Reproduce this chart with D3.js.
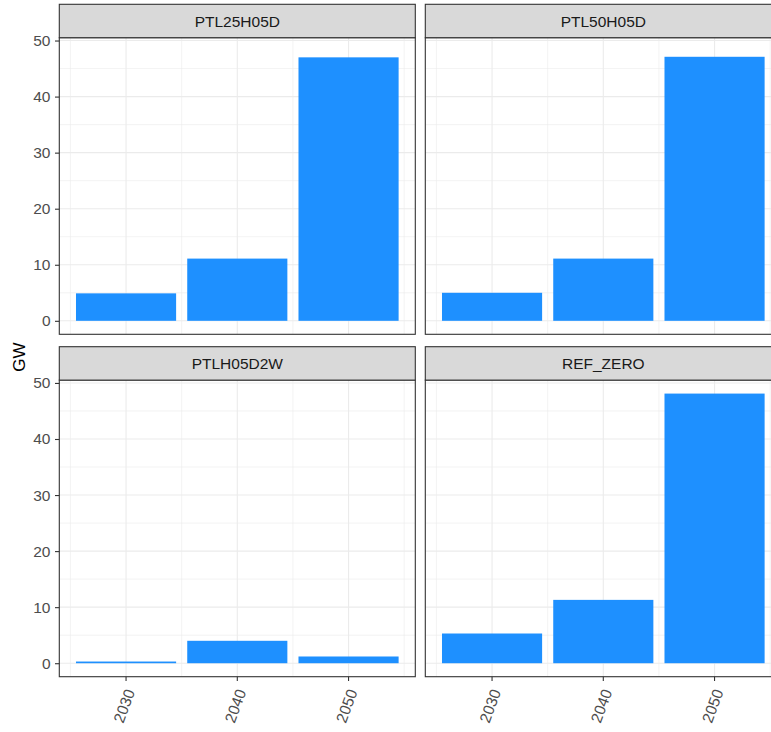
<!DOCTYPE html>
<html>
<head>
<meta charset="utf-8">
<script src="https://cdn.jsdelivr.net/npm/d3@7"></script>
<style>
  html, body { margin: 0; padding: 0; background: #fff; }
  svg { display: block; font-family: "Liberation Sans", Arial, sans-serif; }
</style>
</head>
<body>
<svg id="chart" width="771" height="732"></svg>
<script>
// Installed capacity (GW) by scenario and year
const scenarios = ["PTL25H05D", "PTL50H05D", "PTLH05D2W", "REF_ZERO"];
const years = ["2030", "2040", "2050"];
const valuesPTL25H05D = [4.9, 11.1, 47.0];
const valuesPTL50H05D = [5.0, 11.1, 47.1];
const valuesPTLH05D2W = [0.3, 4.0, 1.2];
const valuesREF_ZERO  = [5.3, 11.3, 48.1];
const yTicks = [0, 10, 20, 30, 40, 50];
const yMinor = [5, 15, 25, 35, 45];
const yLabel = "GW";

const seriesByScenario = {
  PTL25H05D: valuesPTL25H05D,
  PTL50H05D: valuesPTL50H05D,
  PTLH05D2W: valuesPTLH05D2W,
  REF_ZERO: valuesREF_ZERO
};

// layout of the 2x2 facet grid
const panelW = 356, panelH = 296.6, stripH = 33.4;
const colX = [59.3, 425.3];
const rowY = [4.3, 346.7];
const tickFont = 15.5;

const svg = d3.select("#chart");

const maxVal = d3.max(Object.values(seriesByScenario).flat());
const pad = maxVal * 0.05;
const y = d3.scaleLinear().domain([-pad, maxVal + pad]).range([panelH, 0]);
const x = d3.scaleBand().domain(years).range([0, panelW])
  .paddingInner(0.1).paddingOuter(0.15);
const step = x.step();
const center = d => x(d) + x.bandwidth() / 2;
const xMinor = years.map(d => center(d) - step / 2).concat([center(years[years.length - 1]) + step / 2]);

scenarios.forEach((name, i) => {
  const col = i % 2, row = Math.floor(i / 2);
  const g = svg.append("g")
    .attr("transform", `translate(${colX[col]},${rowY[row] + stripH})`);

  // panel background and grid
  g.append("rect").attr("width", panelW).attr("height", panelH).attr("fill", "#fff");
  g.selectAll(".ymin").data(yMinor).join("line")
    .attr("x1", 0).attr("x2", panelW)
    .attr("y1", d => y(d)).attr("y2", d => y(d))
    .attr("stroke", "#EBEBEB").attr("stroke-width", 0.6);
  g.selectAll(".xmin").data(xMinor).join("line")
    .attr("x1", d => d).attr("x2", d => d)
    .attr("y1", 0).attr("y2", panelH)
    .attr("stroke", "#EBEBEB").attr("stroke-width", 0.6);
  g.selectAll(".ymaj").data(yTicks).join("line")
    .attr("x1", 0).attr("x2", panelW)
    .attr("y1", d => y(d)).attr("y2", d => y(d))
    .attr("stroke", "#EBEBEB").attr("stroke-width", 1.1);
  g.selectAll(".xmaj").data(years).join("line")
    .attr("x1", d => center(d)).attr("x2", d => center(d))
    .attr("y1", 0).attr("y2", panelH)
    .attr("stroke", "#EBEBEB").attr("stroke-width", 1.1);

  // bars
  const vals = seriesByScenario[name];
  g.selectAll(".bar").data(years.map((yr, k) => ({ yr, v: vals[k] }))).join("rect")
    .attr("x", d => x(d.yr))
    .attr("width", x.bandwidth())
    .attr("y", d => y(d.v))
    .attr("height", d => y(0) - y(d.v))
    .attr("fill", "#1E90FF");

  // panel border
  g.append("rect").attr("width", panelW).attr("height", panelH)
    .attr("fill", "none").attr("stroke", "#333333").attr("stroke-width", 1.1);

  // strip
  const s = svg.append("g").attr("transform", `translate(${colX[col]},${rowY[row]})`);
  s.append("rect").attr("width", panelW).attr("height", stripH)
    .attr("fill", "#D9D9D9").attr("stroke", "#333333").attr("stroke-width", 1.1);
  s.append("text").attr("x", panelW / 2).attr("y", stripH / 2)
    .attr("dy", "0.36em").attr("text-anchor", "middle")
    .attr("fill", "#1A1A1A").attr("font-size", 15.5).text(name);

  // y axis on left column
  if (col === 0) {
    const ya = g.append("g").call(d3.axisLeft(y).tickValues(yTicks).tickSize(4.3).tickPadding(4.5));
    ya.select(".domain").remove();
    ya.selectAll(".tick line").attr("stroke", "#333333").attr("stroke-width", 1.1);
    ya.selectAll(".tick text").attr("fill", "#4D4D4D").attr("font-size", tickFont)
      .attr("font-family", "Liberation Sans, Arial, sans-serif");
  }
  // x axis on bottom row
  if (row === 1) {
    const xa = g.append("g").attr("transform", `translate(0,${panelH})`)
      .call(d3.axisBottom(x).tickSize(4.3));
    xa.select(".domain").remove();
    xa.selectAll(".tick line").attr("stroke", "#333333").attr("stroke-width", 1.1);
    xa.selectAll(".tick text")
      .attr("fill", "#4D4D4D").attr("font-size", tickFont)
      .attr("font-family", "Liberation Sans, Arial, sans-serif")
      .attr("text-anchor", "end")
      .attr("x", 0).attr("y", 0).attr("dy", "0.35em")
      .attr("transform", "translate(4,13) rotate(-70)");
  }
});

// shared y-axis title
svg.append("text")
  .attr("transform", `translate(19,${(rowY[0] + stripH + rowY[1] + stripH + panelH) / 2}) rotate(-90)`)
  .attr("dy", "0.36em").attr("text-anchor", "middle")
  .attr("fill", "#000").attr("font-size", 17).text(yLabel);
</script>
</body>
</html>
